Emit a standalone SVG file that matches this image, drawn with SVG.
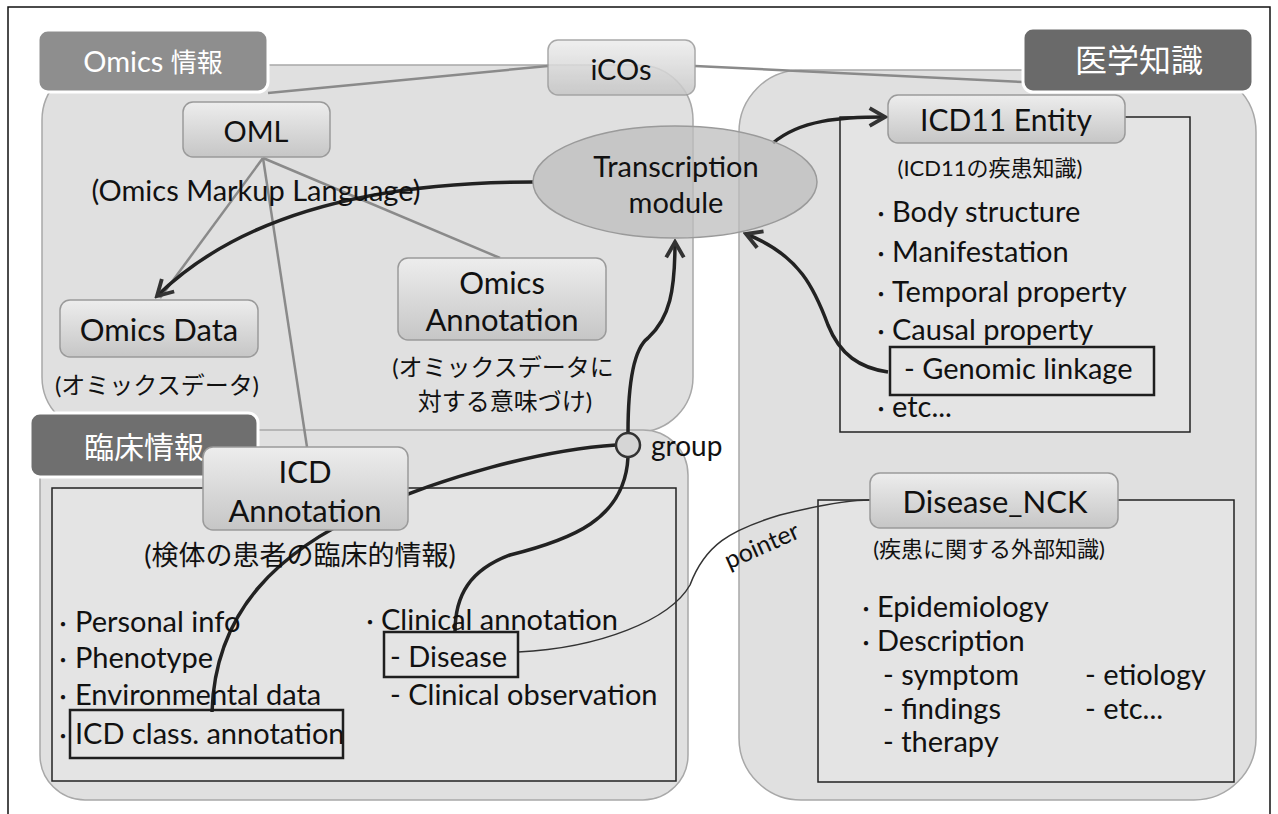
<svg xmlns="http://www.w3.org/2000/svg" width="1278" height="814" viewBox="0 0 1278 814">
<defs>
<linearGradient id="nodeGrad" x1="0" y1="0" x2="0" y2="1">
<stop offset="0" stop-color="#ededed"/>
<stop offset="1" stop-color="#c6c6c6"/>
</linearGradient>
<marker id="arr" viewBox="0 0 20 20" refX="17" refY="10" markerWidth="22" markerHeight="22" markerUnits="userSpaceOnUse" orient="auto">
<path d="M3,2 L17,10 L3,18" fill="none" stroke="#333" stroke-width="3.5" stroke-linejoin="miter"/>
</marker>
</defs>
<style>
.region{fill:#e0e0e0;stroke:#a8a8a8;stroke-width:1.5}
.inner{fill:#e4e4e4;stroke:#222;stroke-width:1.5}
.lbl{stroke:#fff;stroke-width:3}
.lbltxt{font-family:"Noto Sans CJK JP",sans-serif;fill:#fff;text-anchor:middle}
.node{fill:url(#nodeGrad);stroke:#9a9a9a;stroke-width:1.5}
.hl{fill:none;stroke:#1e1e1e;stroke-width:2.5}
.t{font-family:Lato,"Noto Sans CJK JP",sans-serif;fill:#111}
.nt{font-family:Lato,"Noto Sans CJK JP",sans-serif;fill:#111;text-anchor:middle}
.sub{font-family:Lato,"Noto Sans CJK JP",sans-serif;fill:#111;text-anchor:middle}
.li{font-family:Lato,"Noto Sans CJK JP",sans-serif;fill:#111;font-size:29px}
.bul{font-family:"Noto Sans CJK JP",sans-serif;font-size:20px}
.gline{fill:none;stroke:#8a8a8a;stroke-width:2.5}
.thick{fill:none;stroke:#222;stroke-width:3.5}
.thin{fill:none;stroke:#333;stroke-width:1.5}
</style>
<rect width="1278" height="814" fill="#fff"/>
<path d="M8,814 L8,7 L1270,7 L1270,814" fill="none" stroke="#111" stroke-width="1.5"/>

<g id="region-omics">
<rect class="region" x="42" y="65" width="651" height="367" rx="55"/>
</g>
<g id="region-clinical">
<rect class="region" x="40" y="430" width="648" height="370" rx="45"/>
</g>
<g id="region-medical">
<rect class="region" x="739" y="70" width="517" height="730" rx="62"/>
</g>

<g id="inner-boxes">
<rect class="inner" x="840" y="117" width="350" height="315"/>
<rect class="inner" x="52" y="488" width="624" height="293"/>
<rect class="inner" x="818" y="500" width="416" height="282"/>
</g>

<g id="connectors">
<line class="gline" x1="548" y1="66" x2="268" y2="93"/>
<line class="gline" x1="695" y1="66" x2="1023" y2="82"/>
<line class="gline" x1="263" y1="158" x2="160" y2="298"/>
<line class="gline" x1="263" y1="158" x2="307" y2="447"/>
<line class="gline" x1="263" y1="158" x2="500" y2="258"/>
<path class="thick" d="M533,182 C430,182 260,195 157,296" marker-end="url(#arr)"/>
<path class="thick" d="M628,433 C628,390 632,350 648,338 C670,318 675,290 675,242" marker-end="url(#arr)"/>
<path class="thick" d="M212,712 C215,610 280,550 370,510 C440,478 540,450 616,445"/>
<path class="thick" d="M628,457 C625,520 570,540 510,555 C470,570 455,595 455,632"/>
<path class="thin" d="M518,652 C600,648 670,620 690,585 C705,545 730,530 780,515 C820,505 850,500 870,500"/>
<path class="thick" d="M888,372 C860,368 840,355 828,325 C815,290 800,255 746,234" marker-end="url(#arr)"/>
<path class="thick" d="M773,143 C800,120 840,117 885,117" marker-end="url(#arr)"/>
<text class="t" x="762" y="554" font-size="25" fill="#555" text-anchor="middle" transform="rotate(-24 762 546)">pointer</text>
</g>

<g id="label-omics">
<rect class="lbl" x="38" y="30" width="230" height="62" rx="10" fill="#8e8e8e"/>
<text class="lbltxt" x="153" y="72" font-size="26"><tspan font-family="Lato" font-size="29">Omics </tspan>情報</text>
</g>
<g id="label-clinical">
<rect class="lbl" x="30" y="413" width="228" height="64" rx="10" fill="#6f6f6f"/>
<text class="lbltxt" x="144" y="458" font-size="30">臨床情報</text>
</g>
<g id="label-medical">
<rect class="lbl" x="1023" y="28" width="230" height="64" rx="10" fill="#6a6a6a"/>
<text class="lbltxt" x="1139" y="72" font-size="32">医学知識</text>
</g>

<g id="node-icos">
<rect class="node" x="548" y="40" width="147" height="55" rx="10" opacity="0.85"/>
<text class="nt" x="621" y="80" font-size="29">iCOs</text>
</g>
<g id="node-oml">
<rect class="node" x="183" y="102" width="147" height="55" rx="10"/>
<text class="nt" x="256" y="142" font-size="29">OML</text>
<text class="sub" x="256" y="201" font-size="29">(Omics Markup Language)</text>
</g>
<g id="node-transcription">
<ellipse cx="675" cy="182" rx="142" ry="56" fill="#bdbdbd" fill-opacity="0.75" stroke="#9a9a9a" stroke-width="1.5"/>
<text class="nt" x="676" y="177" font-size="29">Transcription</text>
<text class="nt" x="676" y="213" font-size="29">module</text>
</g>
<g id="node-omicsdata">
<rect class="node" x="60" y="300" width="198" height="57" rx="10"/>
<text class="nt" x="159" y="341" font-size="31">Omics Data</text>
<text class="sub" x="157" y="394" font-size="24">(オミックスデータ)</text>
</g>
<g id="node-omicsannotation">
<rect class="node" x="398" y="258" width="208" height="82" rx="10"/>
<text class="nt" x="502" y="294" font-size="31">Omics</text>
<text class="nt" x="502" y="331" font-size="31">Annotation</text>
<text class="sub" x="503" y="376" font-size="24">(オミックスデータに</text>
<text class="sub" x="505" y="410" font-size="24">対する意味づけ)</text>
</g>
<g id="node-group">
<circle cx="628" cy="445" r="12" fill="#d6d6d6" stroke="#333" stroke-width="2.5"/>
<text class="t" x="651" y="456" font-size="28">group</text>
</g>
<g id="node-icdannotation">
<rect class="node" x="203" y="447" width="205" height="83" rx="10"/>
<text class="nt" x="305" y="483" font-size="31">ICD</text>
<text class="nt" x="305" y="522" font-size="31">Annotation</text>
<text class="sub" x="300" y="565" font-size="27">(検体の患者の臨床的情報)</text>
<text class="li" x="53" y="632"><tspan class="bul">・</tspan><tspan x="75">Personal info</tspan></text>
<text class="li" x="53" y="668"><tspan class="bul">・</tspan><tspan x="75">Phenotype</tspan></text>
<text class="li" x="53" y="705"><tspan class="bul">・</tspan><tspan x="75">Environmental data</tspan></text>
<text class="li" x="53" y="744"><tspan class="bul">・</tspan><tspan x="75">ICD class. annotation</tspan></text>
<rect class="hl" x="70" y="710" width="273" height="48"/>
<text class="li" x="360" y="630"><tspan class="bul">・</tspan><tspan x="381">Clinical annotation</tspan></text>
<text class="li" x="390" y="667">- Disease</text>
<rect class="hl" x="384" y="632" width="134" height="45"/>
<text class="li" x="390" y="705">- Clinical observation</text>
</g>
<g id="node-icd11">
<rect class="node" x="888" y="95" width="237" height="48" rx="10"/>
<text class="nt" x="1006" y="131" font-size="30">ICD11 Entity</text>
<text class="sub" x="990" y="176" font-size="22">(ICD11の疾患知識)</text>
<text class="li" x="871" y="222"><tspan class="bul">・</tspan><tspan x="892">Body structure</tspan></text>
<text class="li" x="871" y="262"><tspan class="bul">・</tspan><tspan x="892">Manifestation</tspan></text>
<text class="li" x="871" y="302"><tspan class="bul">・</tspan><tspan x="892">Temporal property</tspan></text>
<text class="li" x="871" y="340"><tspan class="bul">・</tspan><tspan x="892">Causal property</tspan></text>
<text class="li" x="904" y="379">- Genomic linkage</text>
<rect class="hl" x="890" y="347" width="264" height="48"/>
<text class="li" x="871" y="417"><tspan class="bul">・</tspan><tspan x="892">etc...</tspan></text>
</g>
<g id="node-diseasenck">
<rect class="node" x="870" y="473" width="248" height="55" rx="10"/>
<text class="nt" x="995" y="513" font-size="31">Disease_NCK</text>
<text class="sub" x="989" y="557" font-size="22">(疾患に関する外部知識)</text>
<text class="li" x="856" y="617"><tspan class="bul">・</tspan><tspan x="877">Epidemiology</tspan></text>
<text class="li" x="856" y="651"><tspan class="bul">・</tspan><tspan x="877">Description</tspan></text>
<text class="li" x="883" y="685">- symptom</text>
<text class="li" x="1085" y="685">- etiology</text>
<text class="li" x="883" y="719">- findings</text>
<text class="li" x="1085" y="719">- etc...</text>
<text class="li" x="883" y="752">- therapy</text>
</g>
</svg>
